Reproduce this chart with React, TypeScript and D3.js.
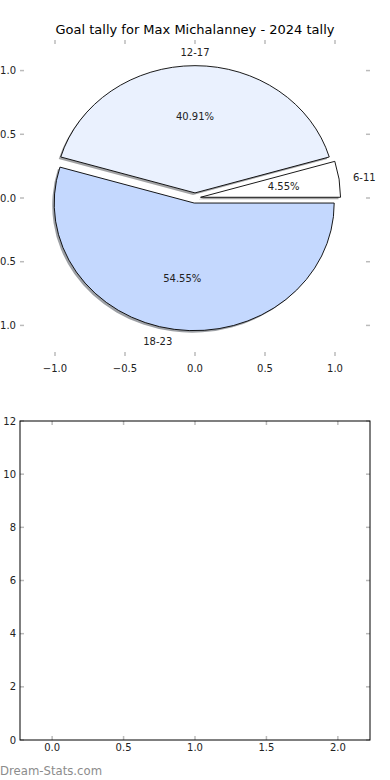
import React from 'react';
import * as d3 from 'd3';

const categories = ['6-11', '12-17', '18-23'];
const goals = [1, 9, 12];
const sliceColors = ['#ffffff', '#eaf1fe', '#c4d8fe'];
const pieTicks = [-1.0, -0.5, 0.0, 0.5, 1.0];
const barXTicks = [0.0, 0.5, 1.0, 1.5, 2.0];
const barYTicks = [0, 2, 4, 6, 8, 10, 12];

const W = 390;
const H = 780;
const FONT = '"DejaVu Sans", sans-serif';
const TICK = '#bbbbbb';
const TXT = '#222222';

const App: React.FC = () => {
  // pie axes
  const pL = 20, pR = 370, pT = 40, pB = 356;
  const px = d3.scaleLinear().domain([-1.25, 1.25]).range([pL, pR]);
  const py = d3.scaleLinear().domain([-1.24, 1.24]).range([pB, pT]);
  const sx = px(1) - px(0);
  const sy = py(0) - py(1);
  const explode = 0.04;
  const total = d3.sum(goals);

  // matplotlib style: start at east, counterclockwise
  const pie = d3.pie<number>().sort(null).startAngle(Math.PI / 2).endAngle(Math.PI / 2 - 2 * Math.PI);
  const arcs = pie(goals);
  const arc = d3.arc<d3.PieArcDatum<number>>().innerRadius(0).outerRadius(1);

  const slices = arcs.map((a, i) => {
    const mid = (a.startAngle + a.endAngle) / 2;
    const dx = Math.sin(mid);
    const dy = -Math.cos(mid);
    return { a, i, mid, dx, dy, path: arc(a) || '' };
  });

  // bar axes
  const bL = 20, bR = 370, bT = 421, bB = 740;
  const bx = d3.scaleLinear().domain([-0.225, 2.225]).range([bL, bR]);
  const by = d3.scaleLinear().domain([0, 12]).range([bB, bT]);

  const shadowColor = (c: string) => {
    const r = d3.rgb(c);
    return d3.rgb(r.r * 0.3, r.g * 0.3, r.b * 0.3).formatHex();
  };

  return (
    <div style={{ position: 'absolute', left: 0, top: 0 }}>
      <svg width={W} height={H} style={{ display: 'block', background: '#fff' }} fontFamily={FONT}>
        <text x={195} y={34} textAnchor="middle" fontSize={13} fill="#000">
          Goal tally for Max Michalanney - 2024 tally
        </text>

        {/* shadows */}
        {slices.map(s => (
          <g key={'sh' + s.i} transform={`translate(${px(0) - 2},${py(0) + 2}) scale(${sx},${sy})`}>
            <path
              d={s.path}
              transform={`translate(${s.dx * explode},${s.dy * explode})`}
              fill={shadowColor(sliceColors[s.i])}
              fillOpacity={0.5}
            />
          </g>
        ))}
        {/* wedges */}
        {slices.map(s => (
          <g key={'w' + s.i} transform={`translate(${px(0)},${py(0)}) scale(${sx},${sy})`}>
            <path
              d={s.path}
              transform={`translate(${s.dx * explode},${s.dy * explode})`}
              fill={sliceColors[s.i]}
              stroke="#000"
              strokeWidth={0.9}
              strokeLinejoin="round"
              vectorEffect="non-scaling-stroke"
            />
          </g>
        ))}
        {/* wedge labels */}
        {slices.map(s => {
          const r = 1.1 + explode;
          const lx = px(0) + s.dx * r * sx;
          const ly = py(0) + s.dy * r * sy;
          const anchor = s.dx > 0.001 ? 'start' : s.dx < -0.001 ? 'end' : 'middle';
          const rp = 0.6 + explode;
          return (
            <g key={'l' + s.i} fontSize={10} fill={TXT}>
              <text x={lx} y={ly} dy="0.35em" textAnchor={anchor}>{categories[s.i]}</text>
              <text x={px(0) + s.dx * rp * sx} y={py(0) + s.dy * rp * sy} dy="0.35em" textAnchor="middle">
                {((goals[s.i] / total) * 100).toFixed(2)}%
              </text>
            </g>
          );
        })}

        {/* pie axis ticks (no frame) */}
        {pieTicks.map(t => (
          <g key={'px' + t}>
            <line x1={px(t)} x2={px(t)} y1={pT} y2={pT + 4} stroke={TICK} strokeWidth={1.5} />
            <line x1={px(t)} x2={px(t)} y1={pB} y2={pB - 4} stroke={TICK} strokeWidth={1.5} />
            <text x={px(t)} y={pB + 9} dy="0.71em" textAnchor="middle" fontSize={10} fill={TXT}>
              {d3.format('.1f')(t)}
            </text>
          </g>
        ))}
        {pieTicks.map(t => (
          <g key={'py' + t}>
            <line x1={pL} x2={pL + 4} y1={py(t)} y2={py(t)} stroke={TICK} strokeWidth={1.5} />
            <line x1={pR} x2={pR - 4} y1={py(t)} y2={py(t)} stroke={TICK} strokeWidth={1.5} />
            <text x={pL - 4} y={py(t)} dy="0.35em" textAnchor="end" fontSize={10} fill={TXT}>
              {d3.format('.1f')(t)}
            </text>
          </g>
        ))}

        {/* empty bar axes */}
        {barXTicks.map(t => (
          <g key={'bx' + t}>
            <line x1={bx(t)} x2={bx(t)} y1={bT} y2={bT + 4} stroke={TICK} strokeWidth={1.5} />
            <line x1={bx(t)} x2={bx(t)} y1={bB} y2={bB - 4} stroke={TICK} strokeWidth={1.5} />
            <text x={bx(t)} y={bB + 4} dy="0.71em" textAnchor="middle" fontSize={10} fill={TXT}>
              {d3.format('.1f')(t)}
            </text>
          </g>
        ))}
        {barYTicks.map(t => (
          <g key={'by' + t}>
            <line x1={bL} x2={bL + 4} y1={by(t)} y2={by(t)} stroke={TICK} strokeWidth={1.5} />
            <line x1={bR} x2={bR - 4} y1={by(t)} y2={by(t)} stroke={TICK} strokeWidth={1.5} />
            <text x={bL - 4} y={by(t)} dy="0.35em" textAnchor="end" fontSize={10} fill={TXT}>
              {t}
            </text>
          </g>
        ))}
        <rect x={bL} y={bT} width={bR - bL} height={bB - bT} fill="none" stroke="#000" strokeWidth={1} />

        <text x={0} y={775} fontSize={11.7} fill="#8c8c8c">Dream-Stats.com</text>
      </svg>
    </div>
  );
};

export default App;
